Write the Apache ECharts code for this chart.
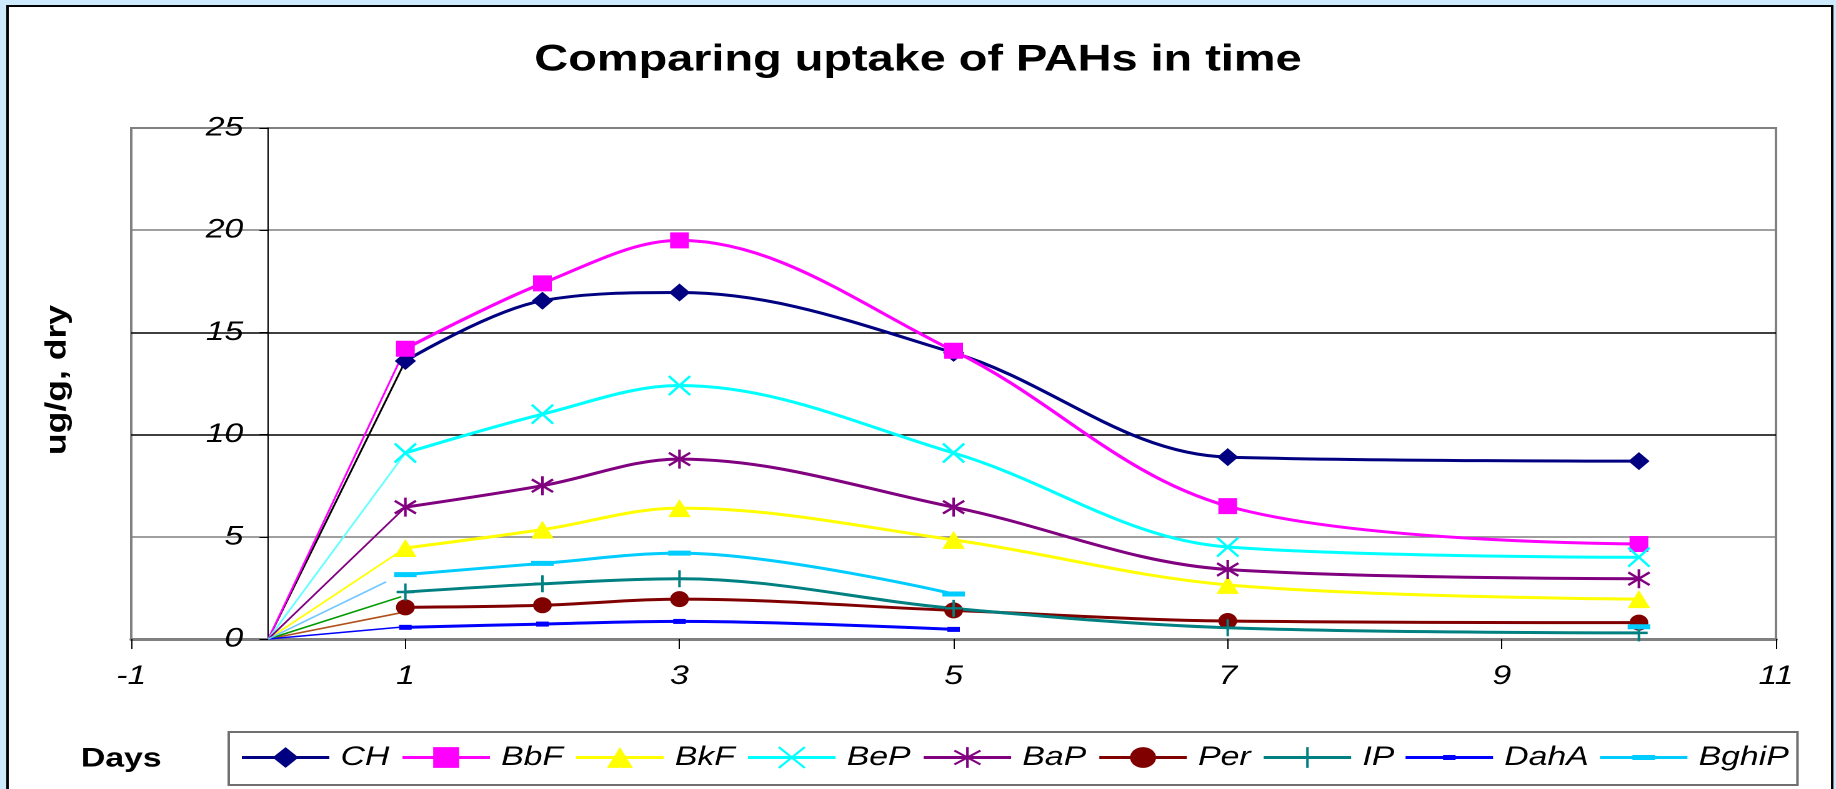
<!DOCTYPE html>
<html>
<head>
<meta charset="utf-8">
<title>Comparing uptake of PAHs in time</title>
<script src="https://cdn.jsdelivr.net/npm/echarts@6/dist/echarts.min.js"></script>
<style>
  html, body { margin: 0; padding: 0; background: #cceafc; overflow: hidden; }
  /* the source chart is stretched sideways, so draw narrow and stretch the same way */
  #chart { width: 1469px; height: 789px; transform: scaleX(1.2498); transform-origin: 0 0; }
</style>
</head>
<body>
<div id="chart"></div>
<script>
// days sampled
var days = [1, 2, 3, 5, 7, 10];

// ug/g dry
var CH    = [13.6, 16.55, 16.95, 14.0, 8.9, 8.7];
var BbF   = [14.2, 17.4, 19.5, 14.1, 6.5, 4.65];
var BkF   = [4.45, 5.35, 6.4, 4.85, 2.65, 1.95];
var BeP   = [9.1, 11.0, 12.4, 9.1, 4.5, 4.0];
var BaP   = [6.45, 7.5, 8.8, 6.45, 3.4, 2.95];
var Per   = [1.55, 1.65, 1.95, 1.4, 0.88, 0.8];
var IP    = [2.3, 2.7, 2.95, 1.5, 0.55, 0.3];
var DahA  = [0.57, 0.73, 0.86, 0.47, null, null];
var BghiP = [3.15, 3.7, 4.2, 2.2, null, 0.6];

var names  = ['CH', 'BbF', 'BkF', 'BeP', 'BaP', 'Per', 'IP', 'DahA', 'BghiP'];
var values = [CH, BbF, BkF, BeP, BaP, Per, IP, DahA, BghiP];

// thin start lines from the origin (day 0) - where each one stops
var rampEndX = [1, 1, 1, 1, 1, 0.98, 0.97, 1, 0.86];
var rampEndY = [13.6, 14.2, 4.45, 9.1, 6.45, 1.3, 2.07, 0.6, 2.8];

var xTicks = [-1, 11, 2];   // min, max, step
var yTicks = [0, 25, 5];

// styles
var colors     = ['#000080', '#ff00ff', '#ffff00', '#00ffff', '#800080', '#800000', '#008080', '#0000ff', '#00ccff'];
var rampColors = ['#000000', '#ff00ff', '#ffff00', '#66ffff', '#800080', '#b0501a', '#009a00', '#0000ff', '#70c8ff'];
var X_PATH    = 'path://M0,0L10,10M10,0L0,10';
var STAR_PATH = 'path://M0,1L10,9M10,1L0,9M5,-1L5,11';
var PLUS_PATH = 'path://M5,0L5,10M0,5L10,5';
var symbols     = ['diamond', 'rect', 'triangle', X_PATH, STAR_PATH, 'circle', PLUS_PATH, 'rect', 'rect'];
var symbolSizes = [[17, 18], [15, 16], [18, 18], [17, 19], [17, 19], [15, 16], [14, 17], [10, 5], [18, 5]];
var stroked     = [false, false, false, true, true, false, true, false, false];
// legend icons for the two dash markers (line + dash, 70x20 box)
var dashIcon = {
  DahA:  'path://M0,0L0.01,0L0,0.01ZM70,20L69.99,20L70,19.99ZM0,8.5L70,8.5L70,11.5L0,11.5ZM30,7.5L40,7.5L40,12.5L30,12.5Z',
  BghiP: 'path://M0,0L0.01,0L0,0.01ZM70,20L69.99,20L70,19.99ZM0,8.5L70,8.5L70,11.5L0,11.5ZM26,7.5L44,7.5L44,12.5L26,12.5Z'
};

var FONT = 'Liberation Sans, Arial, sans-serif';
var W = 1469, gridLeft = 105, gridRight = 48;
// y axis sits on day 0, not on the left edge of the plot
var yAxisShift = (0 - xTicks[0]) / (xTicks[1] - xTicks[0]) * (W - gridLeft - gridRight);

var series = [];
// thin ramps first so they sit under the markers
for (var i = 0; i < names.length; i++) {
  series.push({
    name: names[i] + '_start',
    type: 'line',
    data: [[0, 0], [rampEndX[i], rampEndY[i]]],
    symbol: 'none',
    silent: true,
    lineStyle: { color: rampColors[i], width: 1.6 },
    z: 1
  });
}
for (var i = 0; i < names.length; i++) {
  var pts = [];
  for (var j = 0; j < days.length; j++) {
    pts.push([days[j], values[i][j]]);
  }
  var st = { color: colors[i] };
  if (stroked[i]) { st.borderColor = colors[i]; st.borderWidth = 2.2; }
  series.push({
    name: names[i],
    type: 'line',
    data: pts,
    smooth: 0.35,
    connectNulls: false,
    symbol: symbols[i],
    symbolSize: symbolSizes[i],
    showAllSymbol: true,
    color: colors[i],
    itemStyle: st,
    lineStyle: { color: colors[i], width: 3 },
    z: 2
  });
}

var legendData = names.map(function (n) {
  return dashIcon[n] ? { name: n, icon: dashIcon[n] } : { name: n };
});

var myChart = echarts.init(document.getElementById('chart'), null, { devicePixelRatio: 2 });
var option = {
  backgroundColor: '#cceafc',
  animation: false,
  title: {
    text: 'Comparing uptake of PAHs in time',
    left: 'center',
    top: 36,
    textStyle: { color: '#000', fontFamily: FONT, fontWeight: 'bold', fontSize: 37.5 }
  },
  graphic: [
    {
      type: 'rect', z: -10, silent: true,
      shape: { x: 6, y: 6, width: 1460, height: 820 },
      style: { fill: '#fff', stroke: '#000', lineWidth: 2 }
    },
    {
      type: 'text', x: 46, y: 380, rotation: Math.PI / 2, scaleX: 1.27, scaleY: 0.82,
      style: { text: 'ug/g, dry', font: 'bold 28px ' + FONT, fill: '#000', align: 'center', verticalAlign: 'middle' }
    },
    {
      type: 'text', x: 97, y: 759,
      style: { text: 'Days', font: 'bold 27px ' + FONT, fill: '#000', align: 'center', verticalAlign: 'middle' }
    }
  ],
  legend: {
    data: legendData,
    left: 183,
    top: 732,
    orient: 'horizontal',
    itemWidth: 70,
    itemHeight: 26,
    itemGap: 9,
    padding: [12, 7, 14, 9],
    borderColor: '#707070',
    borderWidth: 2,
    backgroundColor: '#fff',
    lineStyle: { width: 3 },
    textStyle: { color: '#000', fontFamily: FONT, fontStyle: 'italic', fontSize: 27, padding: [0, 0, 0, 4] }
  },
  grid: {
    left: gridLeft,
    right: gridRight,
    top: 128,
    bottom: 150,
    show: true,
    borderColor: '#808080',
    borderWidth: 2,
    backgroundColor: 'transparent'
  },
  xAxis: {
    type: 'value',
    min: xTicks[0],
    max: xTicks[1],
    interval: xTicks[2],
    axisLine: { onZero: true, lineStyle: { color: '#808080', width: 3 } },
    axisTick: { show: true, length: 10, lineStyle: { color: '#000', width: 1 } },
    axisLabel: { color: '#000', fontFamily: FONT, fontStyle: 'italic', fontSize: 27, margin: 24 },
    splitLine: { show: false }
  },
  yAxis: {
    type: 'value',
    min: yTicks[0],
    max: yTicks[1],
    interval: yTicks[2],
    offset: -yAxisShift,
    axisLine: { show: true, onZero: false, lineStyle: { color: '#000', width: 1 } },
    axisTick: { show: true, length: 7, lineStyle: { color: '#000', width: 1 } },
    axisLabel: { color: '#000', fontFamily: FONT, fontStyle: 'italic', fontSize: 27, margin: 20 },
    splitLine: {
      show: true,
      lineStyle: { color: ['#808080', '#808080', '#000', '#000', '#808080', '#808080'], width: 1.5 }
    }
  },
  series: series
};
myChart.setOption(option);
</script>
</body>
</html>
